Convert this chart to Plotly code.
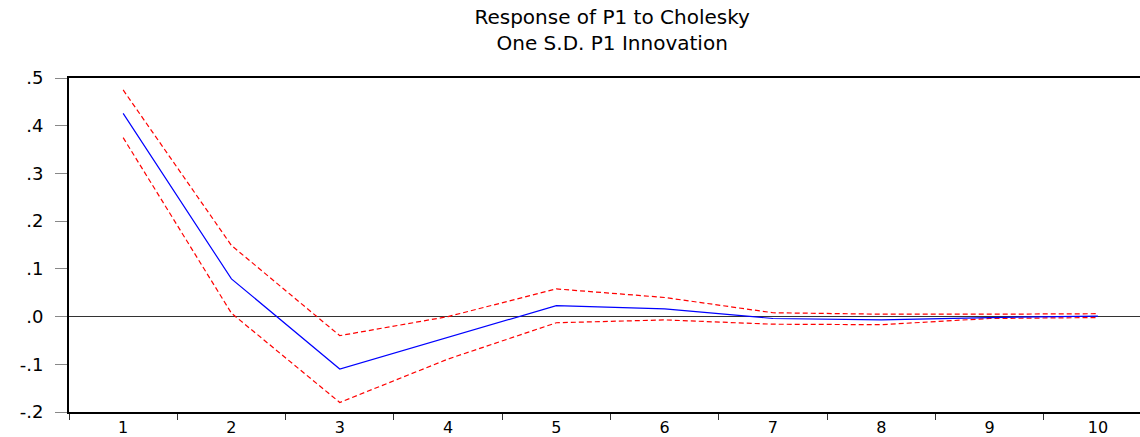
import plotly.graph_objects as go

periods = [1, 2, 3, 4, 5, 6, 7, 8, 9, 10]
response = [0.426, 0.079, -0.110, -0.043, 0.023, 0.016, -0.004, -0.007, -0.002, 0.001]
upper = [0.475, 0.149, -0.040, 0.000, 0.058, 0.040, 0.008, 0.005, 0.005, 0.006]
lower = [0.375, 0.007, -0.180, -0.089, -0.013, -0.007, -0.016, -0.017, -0.004, -0.002]

y_tickvals = [-0.2, -0.1, 0.0, 0.1, 0.2, 0.3, 0.4, 0.5]
y_ticktext = ["-.2", "-.1", ".0", ".1", ".2", ".3", ".4", ".5"]
x_ticktext = [str(p) for p in periods]

FONT = "DejaVu Sans"

fig = go.Figure()
fig.add_trace(go.Scatter(x=periods, y=upper, mode="lines",
                         line=dict(color="#FF0000", width=1.2, dash="5px,3px"),
                         showlegend=False, hoverinfo="skip"))
fig.add_trace(go.Scatter(x=periods, y=lower, mode="lines",
                         line=dict(color="#FF0000", width=1.2, dash="5px,3px"),
                         showlegend=False, hoverinfo="skip"))
fig.add_trace(go.Scatter(x=periods, y=response, mode="lines",
                         line=dict(color="#0000FF", width=1.2),
                         showlegend=False))

fig.update_layout(
    width=1140, height=437,
    margin=dict(l=69, r=0, t=78, b=25, autoexpand=False),
    paper_bgcolor="white", plot_bgcolor="white",
    title=dict(text="Response of P1 to Cholesky<br>One S.D. P1 Innovation",
               x=0.537, xanchor="center", y=0.944, yanchor="top",
               font=dict(family=FONT, size=20, color="black")),
    font=dict(family=FONT, color="black"),
)

fig.update_xaxes(
    range=[0.5, 10.389], automargin=False,
    tickvals=periods, ticktext=x_ticktext, ticks="",
    tickfont=dict(family=FONT, size=16, color="black"),
    showgrid=False, zeroline=False,
    showline=True, linecolor="black", linewidth=2, mirror=True,
    minor=dict(ticks="outside", ticklen=6, tickcolor="#333333", tickwidth=1,
               tick0=0.5, dtick=1, showgrid=False),
)
fig.update_yaxes(
    range=[-0.2, 0.5], automargin=False,
    tickvals=y_tickvals, ticktext=y_ticktext,
    ticks="outside", ticklen=12, tickcolor="#888888", tickwidth=1,
    ticklabelstandoff=8,
    tickfont=dict(family=FONT, size=18, color="black"),
    showgrid=False,
    zeroline=True, zerolinecolor="#333333", zerolinewidth=1,
    showline=True, linecolor="black", linewidth=2,
)

fig.write_html("out.html", config={"displayModeBar": False},
               post_script="document.body.style.margin='0';document.body.style.overflow='hidden';")
